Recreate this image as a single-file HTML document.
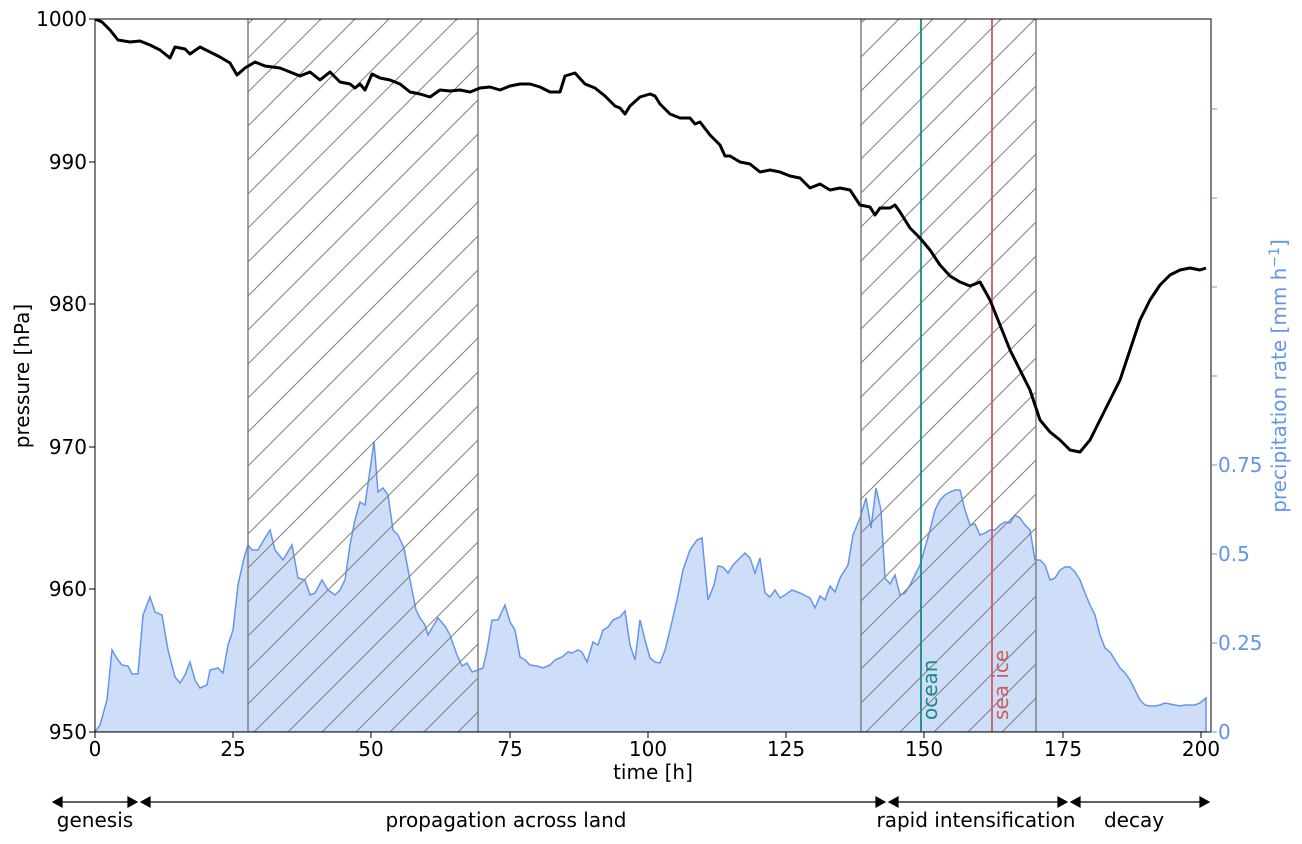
<!DOCTYPE html>
<html><head><meta charset="utf-8"><style>
html,body{margin:0;padding:0;background:#fff;}
svg{display:block;font-family:"DejaVu Sans","Liberation Sans",sans-serif;}
</style></head><body>
<svg width="1302" height="844" viewBox="0 0 1302 844" xmlns="http://www.w3.org/2000/svg">
<defs>
<pattern id="h" patternUnits="userSpaceOnUse" width="34" height="34">
<path d="M-8,8 L8,-8 M0,34 L34,0 M26,42 L42,26" stroke="#808080" stroke-width="1"/>
</pattern>
<clipPath id="c"><rect x="95" y="19" width="1116" height="713"/></clipPath>
</defs>
<g clip-path="url(#c)">
<polygon fill="#cfdef8" stroke="#6495ED" stroke-width="1.5" points="95,732 95,732 100,725 107,700 112,650 118,660 122,665 128,666 132,674 138,674 143,615 150,597 155,612 162,615 168,650 175,677 180,683 185,675 190,662 195,680 200,688 207,685 210,670 218,668 223,673 228,645 233,630 238,585 244,558 248,545 252,550 258,550 265,538 270,530 275,550 283,560 292,545 298,578 305,580 310,595 315,593 322,580 328,590 335,595 340,590 345,580 350,545 355,520 360,502 365,505 370,470 374,442 378,492 383,488 388,495 393,530 398,535 404,548 410,580 416,610 420,618 425,625 428,635 432,628 438,618 445,626 450,635 457,655 462,666 467,663 472,672 478,670 483,668 487,650 492,620 498,620 505,605 510,622 515,630 520,657 525,660 530,665 537,666 543,668 550,665 555,660 562,657 568,652 572,653 578,650 582,652 587,662 593,642 598,645 603,630 608,627 613,620 620,617 625,611 630,645 635,660 640,620 645,640 650,658 655,662 660,663 665,650 670,630 677,600 683,570 690,550 697,540 702,538 708,600 714,585 718,566 723,567 728,573 733,565 740,558 745,553 750,558 755,573 760,558 765,593 770,597 775,590 780,598 785,595 792,590 800,593 810,598 815,608 820,596 825,600 830,586 835,592 840,578 848,565 853,535 860,518 866,498 871,528 876,488 881,510 885,578 890,584 895,575 900,595 905,593 910,585 915,575 920,565 925,548 930,530 935,510 940,500 945,495 950,492 955,490 960,490 965,510 970,525 975,524 980,535 985,533 990,530 995,530 1000,525 1005,522 1010,523 1015,515 1020,518 1025,525 1030,530 1035,560 1040,560 1045,565 1050,580 1055,578 1060,570 1065,567 1070,567 1075,572 1080,580 1085,593 1090,605 1095,615 1100,635 1105,648 1110,652 1115,660 1120,668 1125,673 1130,680 1135,690 1140,700 1145,705 1150,706 1155,706 1160,705 1165,703 1170,704 1175,705 1180,706 1185,705 1190,705 1195,705 1200,703 1206,698 1206,732"/>
<rect x="248" y="19" width="230" height="713" fill="url(#h)"/>
<rect x="861" y="19" width="175" height="713" fill="url(#h)"/>
<g stroke="#808080" stroke-width="1.5">
<line x1="248" y1="19" x2="248" y2="732"/><line x1="478" y1="19" x2="478" y2="732"/>
<line x1="861" y1="19" x2="861" y2="732"/><line x1="1036" y1="19" x2="1036" y2="732"/>
</g>
<line x1="921" y1="19" x2="921" y2="732" stroke="#1a8a82" stroke-width="1.8"/>
<line x1="992" y1="19" x2="992" y2="732" stroke="#cd5c5c" stroke-width="1.8"/>
<polyline fill="none" stroke="#000" stroke-width="3" stroke-linejoin="round" points="95,19 102,22 110,30 118,40 130,42 140,41 150,45 160,50 170,58 175,47 185,49 190,54 200,47 210,52 220,57 230,63 237,75 245,68 255,62 265,66 280,68 290,72 300,76 310,72 320,80 330,72 340,82 350,84 355,88 360,84 365,90 372,74 380,78 390,80 400,84 410,92 420,94 430,97 440,90 450,91 460,90 470,92 480,88 490,87 500,90 510,86 520,84 530,84 540,87 550,92 560,92 565,76 575,73 585,84 595,88 605,96 615,106 620,108 625,114 630,106 640,97 650,94 655,96 660,104 670,114 680,118 690,118 695,124 700,122 710,135 720,145 725,156 730,156 740,162 750,164 760,172 770,170 780,172 790,176 800,178 810,188 820,184 830,190 840,188 850,190 860,205 870,207 875,215 880,208 890,208 895,205 900,212 910,228 920,238 930,250 940,265 950,276 960,282 970,286 980,282 990,300 1000,325 1010,350 1020,370 1030,390 1040,420 1050,432 1060,440 1070,450 1080,452 1090,440 1100,420 1110,400 1120,380 1130,350 1140,320 1150,300 1160,285 1170,275 1180,270 1190,268 1200,270 1206,268"/>
</g>
<text transform="translate(937,720) rotate(-90)" fill="#1a8a82" font-size="20">ocean</text>
<text transform="translate(1008,720) rotate(-90)" fill="#cd5c5c" font-size="20">sea ice</text>
<rect x="95" y="19" width="1116" height="713" fill="none" stroke="#000" stroke-width="1"/>
<g stroke="#000" stroke-width="1">
<line x1="95" y1="732" x2="95" y2="738"/><line x1="233" y1="732" x2="233" y2="738"/><line x1="371" y1="732" x2="371" y2="738"/><line x1="510" y1="732" x2="510" y2="738"/><line x1="648" y1="732" x2="648" y2="738"/><line x1="786" y1="732" x2="786" y2="738"/><line x1="924" y1="732" x2="924" y2="738"/><line x1="1063" y1="732" x2="1063" y2="738"/><line x1="1201" y1="732" x2="1201" y2="738"/>
<line x1="89" y1="19" x2="95" y2="19"/><line x1="89" y1="162" x2="95" y2="162"/><line x1="89" y1="304" x2="95" y2="304"/><line x1="89" y1="447" x2="95" y2="447"/><line x1="89" y1="589" x2="95" y2="589"/><line x1="89" y1="732" x2="95" y2="732"/>
</g>
<g stroke="#6495ED" stroke-width="1">
<line x1="1211" y1="732" x2="1217" y2="732"/><line x1="1211" y1="643" x2="1217" y2="643"/><line x1="1211" y1="554" x2="1217" y2="554"/><line x1="1211" y1="465" x2="1217" y2="465"/><line x1="1211" y1="376" x2="1217" y2="376"/><line x1="1211" y1="287" x2="1217" y2="287"/><line x1="1211" y1="198" x2="1217" y2="198"/><line x1="1211" y1="109" x2="1217" y2="109"/>
</g>
<g font-size="20" text-anchor="middle" fill="#000">
<text x="95" y="756">0</text><text x="233" y="756">25</text><text x="371" y="756">50</text><text x="510" y="756">75</text><text x="648" y="756">100</text><text x="786" y="756">125</text><text x="924" y="756">150</text><text x="1063" y="756">175</text><text x="1201" y="756">200</text>
<text x="653" y="779">time [h]</text>
</g>
<g font-size="20" text-anchor="end" fill="#000">
<text x="87" y="26">1000</text><text x="87" y="169">990</text><text x="87" y="311">980</text><text x="87" y="454">970</text><text x="87" y="596">960</text><text x="87" y="739">950</text>
</g>
<text transform="translate(29,376) rotate(-90)" font-size="20" text-anchor="middle">pressure [hPa]</text>
<g font-size="20" fill="#6495ED">
<text x="1218" y="739">0</text><text x="1218" y="650">0.25</text><text x="1218" y="561">0.5</text><text x="1218" y="472">0.75</text>
</g>
<text transform="translate(1286,376) rotate(-90)" font-size="20" text-anchor="middle" fill="#6495ED">precipitation rate [mm h<tspan dy="-7" font-size="14">−1</tspan><tspan dy="7">]</tspan></text>
<g stroke="#000" stroke-width="1.2" fill="#000">
<line x1="55" y1="802" x2="135" y2="802"/><polygon points="53,802 62,797 62,807"/><polygon points="137,802 128,797 128,807"/>
<line x1="143" y1="802" x2="883" y2="802"/><polygon points="141,802 150,797 150,807"/><polygon points="885,802 876,797 876,807"/>
<line x1="891" y1="802" x2="1065" y2="802"/><polygon points="889,802 898,797 898,807"/><polygon points="1067,802 1058,797 1058,807"/>
<line x1="1073" y1="802" x2="1207" y2="802"/><polygon points="1071,802 1080,797 1080,807"/><polygon points="1209,802 1200,797 1200,807"/>
</g>
<g font-size="20" text-anchor="middle">
<text x="95" y="827">genesis</text><text x="506" y="827">propagation across land</text><text x="976" y="827">rapid intensification</text><text x="1134" y="827">decay</text>
</g>
</svg>
</body></html>
